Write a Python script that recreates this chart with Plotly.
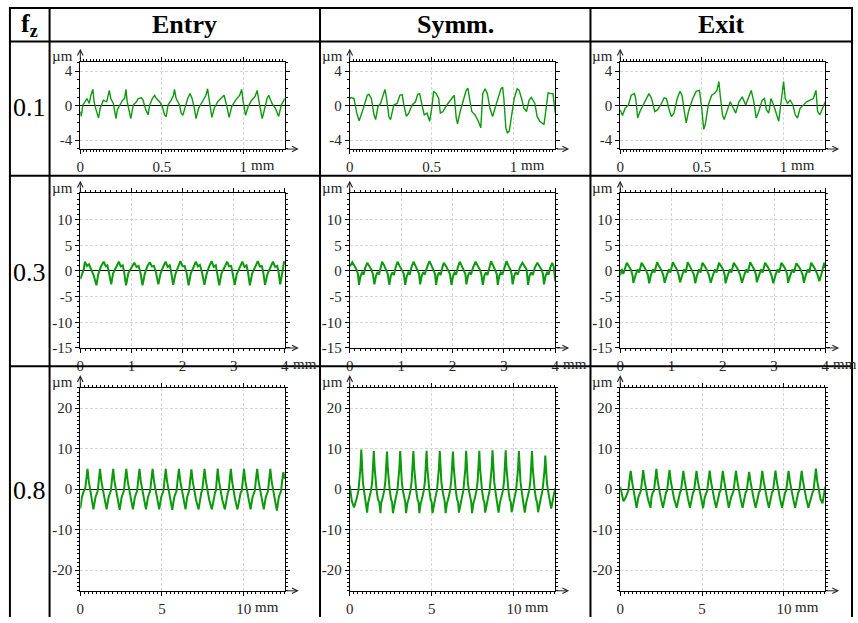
import plotly.graph_objects as go

W, H = 858, 623

# ---------------- data ----------------
column_titles = ["Entry", "Symm.", "Exit"]
feed_labels = ["0.1", "0.3", "0.8"]

# fz = 0.1  (x in mm, y in µm)
entry_01_x = [0.000, 0.006, 0.016, 0.026, 0.041, 0.055, 0.065, 0.077, 0.085, 0.097, 0.112, 0.122, 0.132, 0.142, 0.162, 0.178, 0.187, 0.203, 0.219, 0.227, 0.243, 0.260, 0.272, 0.280, 0.288, 0.300, 0.310, 0.325, 0.345, 0.355, 0.375, 0.385, 0.402, 0.416, 0.426, 0.442, 0.456, 0.467, 0.487, 0.503, 0.517, 0.527, 0.538, 0.558, 0.572, 0.578, 0.588, 0.609, 0.619, 0.629, 0.645, 0.659, 0.673, 0.686, 0.700, 0.710, 0.726, 0.751, 0.771, 0.781, 0.791, 0.807, 0.822, 0.842, 0.862, 0.882, 0.897, 0.913, 0.929, 0.953, 0.978, 0.990, 0.998, 1.014, 1.030, 1.051, 1.071, 1.085, 1.095, 1.116, 1.132, 1.146, 1.156, 1.176, 1.197, 1.217, 1.233, 1.247, 1.255]
entry_01_y = [-0.68, -1.25, 0.08, 0.45, 0.83, 0.26, 1.21, 1.89, 0.45, -0.49, -1.43, -0.30, 0.08, 0.64, 0.45, 1.77, 0.83, 0.26, -1.51, -0.49, 0.08, 0.64, 0.83, 1.89, 0.45, -0.68, -1.51, 0.08, 0.45, 0.83, 0.91, 0.64, -0.49, -1.06, 0.08, 0.83, 1.21, 0.83, 0.45, -0.11, -1.06, -1.28, 0.08, 0.64, 1.21, 1.89, 0.83, 0.08, -0.87, -1.13, 0.08, 0.83, 1.40, 0.83, -0.30, -1.51, -0.30, 0.64, 1.21, 1.96, 0.83, -1.36, -0.30, 0.45, 0.83, 1.21, 0.08, -1.36, -0.11, 0.64, 1.21, 1.89, 0.64, -1.13, -0.11, 0.64, 1.02, 1.77, 0.64, -1.51, -0.30, 0.83, 1.21, 0.26, -0.30, -1.25, 0.08, 0.64, 0.83]

symm_01_x = [0.000, 0.010, 0.026, 0.043, 0.057, 0.067, 0.077, 0.107, 0.117, 0.132, 0.148, 0.158, 0.172, 0.188, 0.204, 0.215, 0.225, 0.239, 0.249, 0.269, 0.289, 0.306, 0.320, 0.330, 0.346, 0.360, 0.381, 0.401, 0.415, 0.427, 0.441, 0.455, 0.472, 0.488, 0.502, 0.512, 0.528, 0.543, 0.553, 0.569, 0.593, 0.623, 0.638, 0.650, 0.658, 0.674, 0.694, 0.711, 0.721, 0.731, 0.745, 0.765, 0.785, 0.800, 0.812, 0.826, 0.840, 0.856, 0.872, 0.887, 0.907, 0.923, 0.933, 0.941, 0.953, 0.962, 0.974, 0.988, 1.004, 1.022, 1.034, 1.049, 1.063, 1.079, 1.095, 1.109, 1.130, 1.144, 1.160, 1.186, 1.200, 1.211, 1.225, 1.241, 1.255]
symm_01_y = [0.83, 0.94, 0.83, -0.87, -1.74, -1.06, -0.68, 1.21, 1.32, 0.83, -1.06, -1.62, -0.11, 0.26, 1.40, 1.89, 0.83, -1.25, -1.62, 0.08, 0.26, 1.21, 1.28, 0.08, -1.25, -0.87, 0.08, 0.45, 1.32, 1.40, 0.08, -1.06, -0.87, -1.81, -0.11, 1.66, 1.40, 0.83, -0.87, -0.68, 0.08, 0.83, 1.21, -1.43, -2.11, -0.68, 0.83, 1.77, 2.04, 0.83, -0.68, -1.06, -1.81, -2.57, 1.40, 1.96, 1.40, -0.30, -1.25, -0.30, 0.83, 1.96, 2.15, 0.83, -2.57, -3.13, -2.94, -1.06, 0.83, 1.96, 1.77, 0.83, -0.30, -0.68, 0.64, 0.94, 0.26, -1.25, -1.81, -2.19, -0.30, 1.51, 1.40, 1.40, -0.87]

exit_01_x = [0.000, 0.014, 0.030, 0.051, 0.067, 0.087, 0.095, 0.107, 0.121, 0.141, 0.162, 0.176, 0.192, 0.212, 0.228, 0.253, 0.269, 0.283, 0.297, 0.313, 0.329, 0.349, 0.366, 0.378, 0.394, 0.404, 0.418, 0.444, 0.465, 0.485, 0.499, 0.511, 0.521, 0.539, 0.560, 0.576, 0.592, 0.604, 0.612, 0.626, 0.636, 0.657, 0.673, 0.693, 0.707, 0.727, 0.747, 0.768, 0.788, 0.802, 0.818, 0.832, 0.848, 0.869, 0.883, 0.895, 0.909, 0.923, 0.939, 0.960, 0.970, 0.980, 0.990, 1.000, 1.010, 1.024, 1.040, 1.057, 1.071, 1.085, 1.101, 1.121, 1.141, 1.162, 1.182, 1.198, 1.208, 1.222, 1.238, 1.255]
exit_01_y = [-0.49, -1.13, -0.30, 0.08, 1.21, 1.40, 0.83, -1.43, -0.68, 0.15, 1.02, 1.40, 0.83, -0.68, -0.49, 0.26, 0.91, 0.83, -0.30, -1.25, -0.87, 0.83, 1.66, 1.21, -0.87, -2.00, -0.68, 0.83, 1.66, 1.77, -0.30, -2.75, -2.19, 0.08, 1.21, 1.40, 1.77, 2.79, 1.21, -1.06, -1.62, -0.30, 0.45, -0.30, -0.87, 0.45, 1.02, 0.08, 1.21, 1.77, 0.45, -1.43, -0.68, 0.64, 0.83, -0.49, -0.87, 0.83, 0.08, -1.25, -1.81, -0.30, 1.21, 2.79, 0.83, 0.26, 0.64, 0.08, -1.06, -1.43, -0.30, 0.08, 0.45, 0.64, 0.83, 1.77, -0.68, -1.06, -0.30, 0.45]

# fz = 0.3
entry_03_x = [0.00, 0.04, 0.07, 0.09, 0.13, 0.17, 0.21, 0.26, 0.316, 0.35, 0.40, 0.457, 0.50, 0.53, 0.56, 0.605, 0.64, 0.70, 0.753, 0.79, 0.83, 0.86, 0.895, 0.94, 1.00, 1.056, 1.10, 1.14, 1.18, 1.217, 1.26, 1.31, 1.359, 1.40, 1.44, 1.48, 1.526, 1.57, 1.62, 1.668, 1.71, 1.75, 1.78, 1.816, 1.86, 1.91, 1.957, 2.00, 2.04, 2.08, 2.118, 2.16, 2.21, 2.260, 2.30, 2.34, 2.38, 2.428, 2.47, 2.52, 2.569, 2.61, 2.65, 2.68, 2.717, 2.76, 2.82, 2.872, 2.91, 2.95, 2.98, 3.020, 3.06, 3.12, 3.168, 3.21, 3.25, 3.28, 3.316, 3.36, 3.42, 3.471, 3.51, 3.55, 3.58, 3.612, 3.66, 3.72, 3.767, 3.81, 3.85, 3.88, 3.909, 3.95, 3.986, 4.00]
entry_03_y = [-1.6, -0.6, 0.4, 1.8, 1.0, 1.3, 0.3, -0.8, -2.8, -0.7, 0.8, 1.8, 0.9, 1.1, -0.3, -2.6, -0.5, 0.9, 1.8, 0.9, 1.1, -0.4, -2.8, -0.4, 0.8, 1.6, 0.8, 1.0, -0.5, -2.8, -0.6, 0.9, 1.7, 0.9, 1.0, -0.3, -2.6, -0.5, 0.8, 1.8, 0.8, 1.1, -0.4, -2.7, -0.6, 0.9, 1.9, 0.9, 1.0, -0.4, -2.8, -0.5, 0.8, 1.8, 0.9, 1.2, -0.3, -2.7, -0.6, 0.9, 1.9, 0.8, 1.1, -0.4, -2.8, -0.5, 0.8, 1.8, 0.9, 1.0, -0.5, -2.7, -0.6, 0.9, 1.8, 0.8, 1.1, -0.3, -2.8, -0.5, 0.8, 1.9, 0.9, 1.0, -0.4, -2.7, -0.6, 0.9, 1.8, 0.8, 1.0, -0.4, -2.6, -0.3, 1.9, 1.2]

symm_03_x = [0.00, 0.05, 0.09, 0.13, 0.16, 0.18, 0.21, 0.24, 0.27, 0.30, 0.34, 0.38, 0.42, 0.45, 0.48, 0.51, 0.54, 0.57, 0.60, 0.63, 0.67, 0.71, 0.74, 0.77, 0.80, 0.83, 0.86, 0.89, 0.93, 0.97, 1.01, 1.05, 1.08, 1.11, 1.14, 1.17, 1.20, 1.24, 1.28, 1.32, 1.35, 1.37, 1.40, 1.43, 1.46, 1.50, 1.55, 1.59, 1.63, 1.66, 1.68, 1.71, 1.74, 1.77, 1.80, 1.83, 1.87, 1.91, 1.95, 1.98, 2.01, 2.04, 2.07, 2.10, 2.14, 2.18, 2.22, 2.25, 2.27, 2.30, 2.33, 2.36, 2.40, 2.45, 2.49, 2.53, 2.56, 2.59, 2.62, 2.65, 2.68, 2.71, 2.75, 2.79, 2.83, 2.86, 2.88, 2.91, 2.94, 2.97, 3.01, 3.05, 3.09, 3.13, 3.15, 3.17, 3.20, 3.23, 3.27, 3.31, 3.36, 3.40, 3.44, 3.45, 3.47, 3.50, 3.53, 3.56, 3.60, 3.65, 3.69, 3.73, 3.76, 3.78, 3.81, 3.84, 3.87, 3.90, 3.94, 3.97, 4.00]
symm_03_y = [0.9, 1.7, 1.0, 0.3, -0.6, -2.7, -1.0, -0.3, -0.7, 0.6, 1.6, 1.0, 0.3, -0.6, -2.6, -1.0, -0.2, -0.7, 0.7, 1.8, 1.1, 0.2, -0.6, -2.7, -0.9, -0.3, -0.8, 0.6, 1.8, 1.0, 0.3, -0.5, -2.7, -1.0, -0.3, -0.7, 0.7, 1.8, 1.0, 0.2, -0.6, -2.6, -1.0, -0.2, -0.7, 0.6, 1.9, 1.1, 0.3, -0.6, -2.7, -0.9, -0.3, -0.8, 0.6, 1.6, 1.0, 0.3, -0.6, -2.7, -1.0, -0.3, -0.7, 0.6, 1.8, 1.0, 0.2, -0.6, -2.6, -1.0, -0.2, -0.7, 0.7, 1.8, 1.0, 0.3, -0.6, -2.7, -0.9, -0.3, -0.8, 0.6, 1.9, 1.1, 0.3, -0.6, -2.7, -1.0, -0.3, -0.7, 0.6, 1.9, 1.0, 0.2, -0.6, -2.6, -1.0, -0.2, -0.7, 0.7, 1.6, 1.0, 0.3, -0.6, -2.7, -0.9, -0.3, -0.8, 0.6, 1.6, 1.0, 0.3, -0.6, -2.6, -1.0, -0.3, -0.7, 0.6, 1.6, 0.8, -2.0]

exit_03_x = [0.000, 0.03, 0.06, 0.10, 0.128, 0.17, 0.21, 0.24, 0.257, 0.30, 0.34, 0.37, 0.40, 0.417, 0.46, 0.50, 0.54, 0.565, 0.60, 0.64, 0.67, 0.70, 0.719, 0.76, 0.80, 0.84, 0.867, 0.91, 0.95, 0.98, 1.01, 1.027, 1.07, 1.11, 1.14, 1.169, 1.21, 1.25, 1.28, 1.30, 1.316, 1.36, 1.40, 1.44, 1.464, 1.50, 1.54, 1.57, 1.59, 1.605, 1.65, 1.69, 1.73, 1.766, 1.81, 1.85, 1.88, 1.91, 1.926, 1.97, 2.01, 2.04, 2.055, 2.10, 2.14, 2.17, 2.20, 2.215, 2.26, 2.30, 2.34, 2.376, 2.42, 2.46, 2.49, 2.52, 2.536, 2.58, 2.62, 2.65, 2.665, 2.71, 2.75, 2.78, 2.81, 2.825, 2.87, 2.91, 2.95, 2.986, 3.03, 3.07, 3.10, 3.13, 3.146, 3.19, 3.23, 3.26, 3.274, 3.32, 3.36, 3.39, 3.42, 3.435, 3.48, 3.52, 3.56, 3.583, 3.62, 3.66, 3.69, 3.71, 3.724, 3.77, 3.81, 3.85, 3.884, 3.92, 3.95, 3.981, 4.00]
exit_03_y = [-0.9, 0.4, -0.6, 0.8, 1.6, 0.9, 0.2, -0.8, -2.3, -0.8, 0.3, -0.3, 1.0, 1.6, 0.9, 0.2, -0.8, -2.4, -0.8, 0.3, -0.3, 1.0, 1.7, 0.9, 0.2, -0.8, -2.3, -0.8, 0.3, -0.3, 1.0, 1.7, 0.9, 0.2, -0.8, -2.2, -0.8, 0.3, -0.3, 1.0, 1.7, 0.9, 0.2, -0.8, -2.4, -0.8, 0.3, -0.3, 1.0, 1.6, 0.9, 0.2, -0.8, -2.3, -0.8, 0.3, -0.3, 1.0, 1.6, 0.9, 0.2, -0.8, -2.4, -0.8, 0.3, -0.3, 1.0, 1.6, 0.9, 0.2, -0.8, -2.3, -0.8, 0.3, -0.3, 1.0, 1.7, 0.9, 0.2, -0.8, -2.2, -0.8, 0.3, -0.3, 1.0, 1.6, 0.9, 0.2, -0.8, -2.4, -0.8, 0.3, -0.3, 1.0, 1.6, 0.9, 0.2, -0.8, -2.3, -0.8, 0.3, -0.3, 1.0, 1.5, 0.9, 0.2, -0.8, -2.3, -0.8, 0.3, -0.3, 1.0, 1.6, 0.9, 0.2, -0.8, -2.0, -0.8, 0.3, 1.6, 0.6]

# fz = 0.8
entry_08_x = [0.00, 0.10, 0.20, 0.30, 0.36, 0.443, 0.52, 0.59, 0.65, 0.72, 0.805, 0.93, 1.01, 1.07, 1.13, 1.207, 1.29, 1.36, 1.42, 1.49, 1.61, 1.73, 1.81, 1.87, 1.93, 2.012, 2.09, 2.16, 2.22, 2.29, 2.41, 2.53, 2.61, 2.67, 2.73, 2.817, 2.90, 2.97, 3.03, 3.10, 3.22, 3.34, 3.42, 3.48, 3.54, 3.622, 3.70, 3.77, 3.83, 3.90, 4.02, 4.14, 4.22, 4.28, 4.34, 4.427, 4.51, 4.58, 4.64, 4.71, 4.83, 4.95, 5.03, 5.09, 5.15, 5.231, 5.31, 5.38, 5.44, 5.51, 5.63, 5.75, 5.83, 5.89, 5.95, 6.036, 6.12, 6.19, 6.25, 6.32, 6.44, 6.54, 6.61, 6.66, 6.72, 6.801, 6.88, 6.95, 7.01, 7.08, 7.24, 7.34, 7.41, 7.46, 7.53, 7.606, 7.69, 7.76, 7.82, 7.89, 8.05, 8.17, 8.25, 8.30, 8.34, 8.410, 8.49, 8.56, 8.62, 8.69, 8.85, 8.96, 9.03, 9.08, 9.14, 9.215, 9.29, 9.35, 9.41, 9.48, 9.62, 9.74, 9.82, 9.88, 9.94, 10.02, 10.10, 10.17, 10.23, 10.30, 10.42, 10.54, 10.62, 10.68, 10.74, 10.825, 10.91, 10.98, 11.04, 11.11, 11.23, 11.35, 11.43, 11.49, 11.55, 11.63, 11.71, 11.78, 11.84, 11.91, 12.03, 12.15, 12.23, 12.29, 12.35, 12.43, 12.52]
entry_08_y = [-4.8, -2.0, -0.6, 0.2, 2.2, 5.0, 2.0, 0.3, -0.6, -2.6, -5.0, -2.0, -0.8, -0.4, 2.0, 5.0, 2.0, 0.3, -0.6, -2.6, -5.0, -2.0, -0.8, -0.4, 2.0, 5.0, 2.0, 0.3, -0.6, -2.6, -5.1, -2.0, -0.8, -0.4, 2.0, 5.0, 2.0, 0.3, -0.6, -2.6, -5.0, -2.0, -0.8, -0.4, 2.0, 5.0, 2.0, 0.3, -0.6, -2.6, -5.0, -2.0, -0.8, -0.4, 2.0, 5.0, 2.0, 0.3, -0.6, -2.6, -5.0, -2.0, -0.8, -0.4, 2.0, 5.0, 2.0, 0.3, -0.6, -2.6, -5.1, -2.0, -0.8, -0.4, 2.0, 5.0, 2.0, 0.3, -0.6, -2.6, -5.0, -2.0, -0.8, -0.4, 2.0, 4.9, 2.0, 0.3, -0.6, -2.6, -5.0, -2.0, -0.8, -0.4, 2.0, 5.0, 2.0, 0.3, -0.6, -2.6, -5.0, -2.0, -0.8, -0.4, 2.0, 5.1, 2.0, 0.3, -0.6, -2.6, -5.0, -2.0, -0.8, -0.4, 2.0, 5.0, 2.0, 0.3, -0.6, -2.6, -5.0, -2.0, -0.8, -0.4, 2.0, 5.0, 2.0, 0.3, -0.6, -2.6, -5.0, -2.0, -0.8, -0.4, 2.0, 5.0, 2.0, 0.3, -0.6, -2.6, -5.0, -2.0, -0.8, -0.4, 2.0, 5.0, 2.0, 0.3, -0.6, -2.6, -5.3, -2.0, -0.8, -0.4, 2.0, 4.2, 2.5]

symm_08_x = [0.00, 0.05, 0.13, 0.26, 0.34, 0.43, 0.53, 0.60, 0.65, 0.703, 0.75, 0.80, 0.87, 0.95, 1.01, 1.06, 1.11, 1.20, 1.30, 1.37, 1.42, 1.466, 1.52, 1.57, 1.64, 1.72, 1.80, 1.87, 1.91, 2.00, 2.10, 2.17, 2.22, 2.269, 2.32, 2.37, 2.44, 2.52, 2.58, 2.63, 2.71, 2.80, 2.90, 2.97, 3.02, 3.072, 3.12, 3.17, 3.24, 3.32, 3.38, 3.43, 3.51, 3.60, 3.70, 3.77, 3.82, 3.876, 3.93, 3.98, 4.05, 4.13, 4.19, 4.24, 4.32, 4.41, 4.51, 4.58, 4.63, 4.679, 4.73, 4.78, 4.85, 4.93, 4.99, 5.04, 5.12, 5.21, 5.31, 5.38, 5.43, 5.482, 5.53, 5.58, 5.65, 5.73, 5.79, 5.84, 5.92, 6.01, 6.11, 6.18, 6.23, 6.285, 6.34, 6.39, 6.46, 6.54, 6.60, 6.65, 6.73, 6.82, 6.92, 6.99, 7.04, 7.088, 7.14, 7.19, 7.26, 7.34, 7.40, 7.45, 7.53, 7.62, 7.72, 7.79, 7.84, 7.892, 7.94, 7.99, 8.06, 8.14, 8.20, 8.25, 8.33, 8.42, 8.52, 8.59, 8.64, 8.695, 8.75, 8.80, 8.87, 8.95, 9.01, 9.06, 9.14, 9.23, 9.33, 9.40, 9.45, 9.498, 9.55, 9.60, 9.67, 9.75, 9.81, 9.86, 9.94, 10.03, 10.13, 10.20, 10.25, 10.30, 10.35, 10.40, 10.47, 10.55, 10.61, 10.66, 10.74, 10.83, 10.93, 11.00, 11.05, 11.10, 11.15, 11.20, 11.27, 11.35, 11.41, 11.47, 11.55, 11.64, 11.74, 11.81, 11.86, 11.91, 11.96, 12.01, 12.08, 12.16, 12.22, 12.27, 12.40, 12.52]
symm_08_y = [0.9, -0.5, -3.0, -4.5, -3.5, -2.2, -0.3, 2.0, 5.0, 9.8, 5.0, 1.8, -0.4, -2.6, -3.2, -5.8, -3.5, -2.2, -0.3, 2.0, 5.0, 9.4, 5.0, 1.8, -0.4, -2.6, -3.2, -5.9, -3.5, -2.2, -0.3, 2.0, 5.0, 9.3, 5.0, 1.8, -0.4, -2.6, -3.2, -5.9, -3.5, -2.2, -0.3, 2.0, 5.0, 9.4, 5.0, 1.8, -0.4, -2.6, -3.2, -5.9, -3.5, -2.2, -0.3, 2.0, 5.0, 9.4, 5.0, 1.8, -0.4, -2.6, -3.2, -5.9, -3.5, -2.2, -0.3, 2.0, 5.0, 9.5, 5.0, 1.8, -0.4, -2.6, -3.2, -5.9, -3.5, -2.2, -0.3, 2.0, 5.0, 9.4, 5.0, 1.8, -0.4, -2.6, -3.2, -5.9, -3.5, -2.2, -0.3, 2.0, 5.0, 9.3, 5.0, 1.8, -0.4, -2.6, -3.2, -5.8, -3.5, -2.2, -0.3, 2.0, 5.0, 9.5, 5.0, 1.8, -0.4, -2.6, -3.2, -5.9, -3.5, -2.2, -0.3, 2.0, 5.0, 9.5, 5.0, 1.8, -0.4, -2.6, -3.2, -5.8, -3.5, -2.2, -0.3, 2.0, 5.0, 9.6, 5.0, 1.8, -0.4, -2.6, -3.2, -5.8, -3.5, -2.2, -0.3, 2.0, 5.0, 9.6, 5.0, 1.8, -0.4, -2.6, -3.2, -5.7, -3.5, -2.2, -0.3, 2.0, 5.0, 9.4, 5.0, 1.8, -0.4, -2.6, -3.2, -5.8, -3.5, -2.2, -0.3, 2.0, 5.0, 9.4, 5.0, 1.8, -0.4, -2.6, -3.2, -5.7, -3.5, -2.2, -0.3, 2.0, 4.5, 8.3, 4.5, 1.5, -0.4, -2.6, -3.2, -4.8, -2.0, 0.3]

exit_08_x = [0.00, 0.06, 0.14, 0.20, 0.34, 0.43, 0.49, 0.56, 0.643, 0.72, 0.79, 0.85, 0.92, 1.00, 1.11, 1.20, 1.26, 1.33, 1.406, 1.49, 1.56, 1.62, 1.69, 1.85, 1.91, 1.99, 2.06, 2.13, 2.209, 2.29, 2.36, 2.42, 2.49, 2.61, 2.71, 2.80, 2.86, 2.93, 3.012, 3.09, 3.16, 3.22, 3.29, 3.45, 3.56, 3.65, 3.71, 3.78, 3.855, 3.94, 4.01, 4.07, 4.14, 4.26, 4.36, 4.45, 4.51, 4.58, 4.659, 4.74, 4.81, 4.87, 4.94, 5.06, 5.16, 5.25, 5.31, 5.38, 5.462, 5.54, 5.61, 5.67, 5.74, 5.86, 5.97, 6.06, 6.12, 6.19, 6.265, 6.35, 6.42, 6.48, 6.55, 6.63, 6.77, 6.86, 6.92, 6.99, 7.068, 7.15, 7.22, 7.28, 7.35, 7.47, 7.57, 7.66, 7.72, 7.79, 7.871, 7.95, 8.02, 8.08, 8.15, 8.27, 8.38, 8.47, 8.53, 8.60, 8.675, 8.76, 8.83, 8.89, 8.96, 9.08, 9.18, 9.27, 9.33, 9.40, 9.478, 9.56, 9.63, 9.69, 9.76, 9.88, 9.98, 10.07, 10.13, 10.20, 10.28, 10.36, 10.43, 10.49, 10.56, 10.68, 10.78, 10.87, 10.93, 11.00, 11.08, 11.16, 11.23, 11.29, 11.36, 11.49, 11.65, 11.74, 11.80, 11.87, 11.95, 12.03, 12.10, 12.16, 12.23, 12.35, 12.45, 12.52]
exit_08_y = [0.6, -0.8, -2.0, -3.0, -2.0, -0.8, -0.4, 2.0, 4.5, 2.0, 0.3, -0.6, -2.4, -4.6, -2.0, -0.8, -0.4, 2.0, 4.7, 2.0, 0.3, -0.6, -2.4, -4.6, -2.0, -0.8, -0.4, 2.0, 5.0, 2.0, 0.3, -0.6, -2.4, -4.6, -2.0, -0.8, -0.4, 2.0, 4.8, 2.0, 0.3, -0.6, -2.4, -4.6, -2.0, -0.8, -0.4, 2.0, 4.5, 2.0, 0.3, -0.6, -2.4, -4.6, -2.0, -0.8, -0.4, 2.0, 4.5, 2.0, 0.3, -0.6, -2.4, -4.7, -2.0, -0.8, -0.4, 2.0, 4.6, 2.0, 0.3, -0.6, -2.4, -4.6, -2.0, -0.8, -0.4, 2.0, 4.5, 2.0, 0.3, -0.6, -2.4, -4.6, -2.0, -0.8, -0.4, 2.0, 4.5, 2.0, 0.3, -0.6, -2.4, -4.6, -2.0, -0.8, -0.4, 2.0, 4.3, 2.0, 0.3, -0.6, -2.4, -4.6, -2.0, -0.8, -0.4, 2.0, 4.5, 2.0, 0.3, -0.6, -2.4, -4.6, -2.0, -0.8, -0.4, 2.0, 4.6, 2.0, 0.3, -0.6, -2.4, -4.6, -2.0, -0.8, -0.4, 2.0, 4.5, 2.0, 0.3, -0.6, -2.4, -4.6, -2.0, -0.8, -0.4, 2.0, 4.5, 2.0, 0.3, -0.6, -2.4, -4.6, -2.0, -0.8, -0.4, 2.0, 5.1, 2.0, 0.3, -0.6, -2.4, -3.5, -1.0, 0.6]

profiles = [
    [(entry_01_x, entry_01_y), (symm_01_x, symm_01_y), (exit_01_x, exit_01_y)],
    [(entry_03_x, entry_03_y), (symm_03_x, symm_03_y), (exit_03_x, exit_03_y)],
    [(entry_08_x, entry_08_y), (symm_08_x, symm_08_y), (exit_08_x, exit_08_y)],
]

# axis ticks per row
x_tick_values = [[0, 0.5, 1], [0, 1, 2, 3, 4], [0, 5, 10]]
x_tick_labels = [["0", "0.5", "1"], ["0", "1", "2", "3", "4"], ["0", "5", "10"]]
y_tick_values = [[-4, 0, 4], [-15, -10, -5, 0, 5, 10], [-20, -10, 0, 10, 20]]
y_tick_labels = [["-4", "0", "4"], ["-15", "-10", "-5", "0", "5", "10"], ["-20", "-10", "0", "10", "20"]]
x_unit = "mm"
y_unit = "µm"

# ---------------- layout geometry (pixels) ----------------
x_ranges = [[0, 1.255], [0, 4.0], [0, 12.52]]
y_ranges = [[-5.03, 5.12], [-15.0, 15.1], [-25.1, 25.0]]
x_minor = [0.02, 0.1, 0.25]
y_minor = [1, 1, 1]
line_widths = [1.4, 2.0, 2.0]
col_px = [(77, 283.5), (349, 556.5), (622, 829)]
row_px = [(62.3, 151), (196, 352.5), (393, 598.5)]

FONT = "Liberation Serif, Times New Roman, serif"
GREEN = "#0b9a0b"
TXT = "#262626"
TICK_SIZE = 15


def px(xp):
    return xp / W


def py(yp):
    return 1 - yp / H


fig = go.Figure()
layout = dict(
    width=W, height=H, margin=dict(l=0, r=0, t=0, b=0),
    paper_bgcolor="white", plot_bgcolor="white", showlegend=False,
)
annotations = []
shapes = []

for r in range(3):
    for c in range(3):
        k = r * 3 + c + 1
        s = "" if k == 1 else str(k)
        xl, xr = col_px[c]
        yt, yb = row_px[r]
        common = dict(
            showline=True, linecolor="black", linewidth=1, mirror="allticks",
            ticks="outside", ticklen=4, tickwidth=1, tickcolor="black",
            showgrid=True, gridcolor="#d6d6d6", griddash="3px,2px", gridwidth=1,
            tickfont=dict(family=FONT, size=TICK_SIZE, color=TXT),
            tickmode="array", fixedrange=True,
        )
        layout["xaxis" + s] = dict(
            common, domain=[px(xl), px(xr)], anchor="y" + s,
            range=x_ranges[r], tickvals=x_tick_values[r], ticktext=x_tick_labels[r],
            zeroline=False,
            minor=dict(ticks="outside", ticklen=2, tickcolor="black", dtick=x_minor[r], tick0=0, showgrid=False),
        )
        layout["yaxis" + s] = dict(
            common, domain=[py(yb), py(yt)], anchor="x" + s,
            range=y_ranges[r], tickvals=y_tick_values[r], ticktext=y_tick_labels[r],
            zeroline=True, zerolinecolor="black", zerolinewidth=1,
            minor=dict(ticks="outside", ticklen=2, tickcolor="black", dtick=y_minor[r], tick0=0, showgrid=False),
        )
        xs, ys = profiles[r][c]
        fig.add_trace(go.Scatter(
            x=xs, y=ys, xaxis="x" + s, yaxis="y" + s, mode="lines",
            line=dict(color=GREEN, width=line_widths[r]), hoverinfo="skip",
        ))
        # y unit label
        annotations.append(dict(
            text=y_unit, xref="paper", yref="paper", x=px(xl - 5), y=py(yt - 6),
            xanchor="right", yanchor="middle", showarrow=False,
            font=dict(family=FONT, size=TICK_SIZE, color=TXT),
        ))
        # x unit label after last labelled tick
        last_tick = x_tick_values[r][-1]
        tick_px = xl + (last_tick - x_ranges[r][0]) / (x_ranges[r][1] - x_ranges[r][0]) * (xr - xl)
        half = 3.75 * len(x_tick_labels[r][-1])
        annotations.append(dict(
            text=x_unit, xref="paper", yref="paper", x=px(tick_px + half + 2), y=py(yb + 16),
            xanchor="left", yanchor="middle", showarrow=False,
            font=dict(family=FONT, size=TICK_SIZE, color=TXT),
        ))
        # axis arrows
        annotations.append(dict(
            text="", xref="paper", yref="paper", x=px(xr + 14), y=py(yb),
            ax=-14, ay=0, showarrow=True, arrowhead=5, arrowsize=1.1, arrowwidth=1,
            arrowcolor="#222", standoff=0, startstandoff=0,
        ))
        annotations.append(dict(
            text="", xref="paper", yref="paper", x=px(xl), y=py(yt - 13),
            ax=0, ay=13, showarrow=True, arrowhead=5, arrowsize=1.1, arrowwidth=1,
            arrowcolor="#222", standoff=0, startstandoff=0,
        ))

# ---------------- table ----------------
h_lines = [8, 42, 178, 371]
v_lines = [6, 46, 319, 592, 856]
for yl in h_lines:
    shapes.append(dict(type="line", xref="paper", yref="paper", x0=px(5), x1=px(857),
                       y0=py(yl), y1=py(yl), line=dict(color="black", width=2)))
for xv in v_lines:
    shapes.append(dict(type="line", xref="paper", yref="paper", x0=px(xv), x1=px(xv),
                       y0=py(7), y1=py(625), line=dict(color="black", width=2)))

header_font = dict(family=FONT, size=26, color="black")
annotations.append(dict(text="<b>f<sub>z</sub></b>", xref="paper", yref="paper", x=px(26), y=py(25),
                        xanchor="center", yanchor="middle", showarrow=False, font=header_font))
for c, title in enumerate(column_titles):
    cx = (v_lines[c + 1] + v_lines[c + 2]) / 2
    annotations.append(dict(text="<b>" + title + "</b>", xref="paper", yref="paper", x=px(cx), y=py(25),
                            xanchor="center", yanchor="middle", showarrow=False, font=header_font))
row_label_y = [109, 276, 497]
for r, lab in enumerate(feed_labels):
    annotations.append(dict(text=lab, xref="paper", yref="paper", x=px(26), y=py(row_label_y[r]),
                            xanchor="center", yanchor="middle", showarrow=False,
                            font=dict(family=FONT, size=26, color="black")))

layout["annotations"] = annotations
layout["shapes"] = shapes
fig.update_layout(layout)

fig.write_html(
    "out.html",
    config={"displayModeBar": False},
    post_script="document.body.style.margin='0px';document.body.style.overflow='hidden';",
)
